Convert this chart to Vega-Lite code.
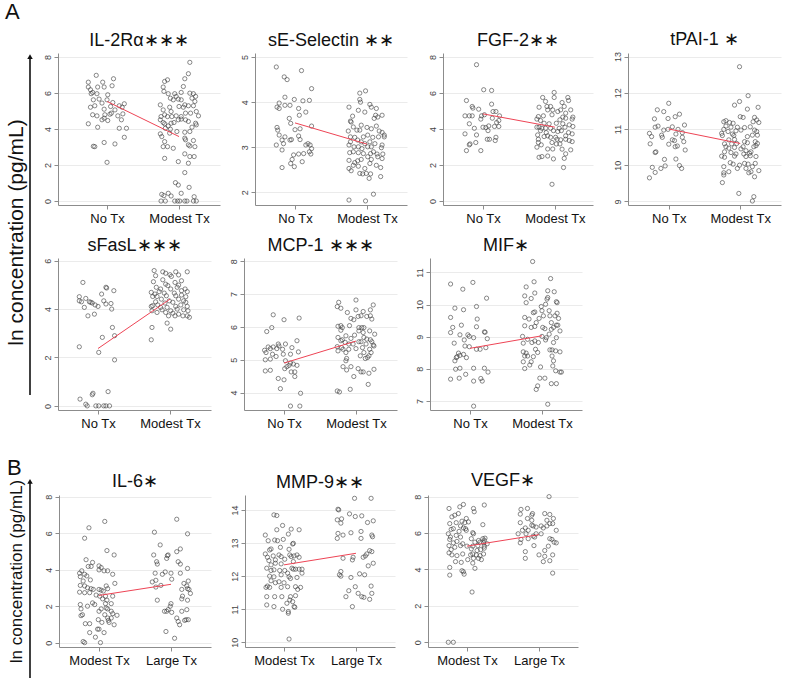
{
"$schema":"https://vega.github.io/schema/vega-lite/v6.json",
"background":"white",
"padding":{"top":0,"left":5,"right":5,"bottom":5},
"spacing":27,
"config":{
 "view":{"stroke":null},
 "font":"Liberation Sans",
 "title":{"font":"Liberation Sans","fontSize":18,"fontWeight":"normal","color":"#111","offset":3},
 "axis":{"labelFont":"Liberation Sans","titleFont":"Liberation Sans","domainColor":"#8c8c8c","tickColor":"#8c8c8c","gridColor":"#ebebeb","tickSize":4},
 "axisY":{"labelAngle":-90,"labelFontSize":9,"labelColor":"#444","labelPadding":2,"grid":true,"labelOverlap":false},
 "axisX":{"grid":false,"labelFontSize":13,"labelColor":"#111","labelPadding":3},
 "point":{"shape":"circle","filled":false,"size":18,"strokeWidth":0.6,"color":"#3a3a3a","opacity":1},
 "line":{"color":"#ee4455","strokeWidth":1}
},
"datasets":{
"il2ra":[{"x":0.74,"y":6.6},{"x":0.85,"y":6.98},{"x":0.94,"y":6.6},{"x":0.74,"y":6.33},{"x":0.77,"y":6.18},{"x":0.78,"y":5.96},{"x":0.8,"y":6.03},{"x":0.87,"y":6.33},{"x":0.96,"y":6.33},{"x":0.86,"y":5.96},{"x":1.01,"y":5.9},{"x":1.09,"y":6.79},{"x":1.07,"y":6.4},{"x":0.81,"y":5.62},{"x":0.89,"y":5.66},{"x":0.77,"y":5.21},{"x":0.83,"y":5.29},{"x":1.0,"y":5.62},{"x":0.93,"y":5.44},{"x":1.08,"y":5.47},{"x":1.05,"y":5.25},{"x":1.17,"y":5.29},{"x":1.24,"y":5.4},{"x":1.21,"y":5.21},{"x":0.96,"y":5.1},{"x":1.11,"y":5.06},{"x":1.06,"y":4.88},{"x":1.22,"y":4.84},{"x":0.8,"y":4.79},{"x":0.86,"y":4.73},{"x":0.97,"y":4.79},{"x":1.04,"y":4.82},{"x":1.15,"y":4.73},{"x":0.74,"y":4.29},{"x":0.96,"y":4.6},{"x":0.93,"y":4.51},{"x":1.01,"y":4.47},{"x":1.2,"y":4.51},{"x":0.87,"y":4.1},{"x":1.17,"y":4.04},{"x":1.27,"y":4.04},{"x":1.24,"y":3.54},{"x":0.83,"y":3.02},{"x":0.81,"y":3.04},{"x":0.96,"y":3.25},{"x":1.11,"y":3.17},{"x":1.0,"y":2.15},
{"x":1.8,"y":6.64},{"x":1.84,"y":6.73},{"x":1.78,"y":6.33},{"x":1.79,"y":6.09},{"x":1.85,"y":5.96},{"x":1.94,"y":5.96},{"x":1.96,"y":5.81},{"x":2.03,"y":6.03},{"x":2.06,"y":6.36},{"x":2.08,"y":6.79},{"x":2.13,"y":7.07},{"x":2.15,"y":7.7},{"x":1.88,"y":5.71},{"x":1.92,"y":5.62},{"x":1.99,"y":5.66},{"x":2.03,"y":5.62},{"x":2.15,"y":5.99},{"x":2.18,"y":5.71},{"x":2.2,"y":5.96},{"x":1.74,"y":5.34},{"x":1.78,"y":5.06},{"x":1.87,"y":5.21},{"x":1.89,"y":4.97},{"x":2.0,"y":5.25},{"x":2.06,"y":5.21},{"x":2.08,"y":5.34},{"x":2.13,"y":5.29},{"x":2.2,"y":5.29},{"x":2.22,"y":5.53},{"x":2.23,"y":5.81},{"x":1.8,"y":4.79},{"x":1.84,"y":4.69},{"x":1.75,"y":4.69},{"x":1.9,"y":4.69},{"x":1.96,"y":4.73},{"x":2.03,"y":4.69},{"x":2.09,"y":4.88},{"x":2.16,"y":4.88},{"x":2.24,"y":4.97},{"x":2.27,"y":4.73},{"x":1.74,"y":4.51},{"x":1.78,"y":4.36},{"x":1.8,"y":4.29},{"x":1.85,"y":4.17},{"x":1.89,"y":4.32},{"x":1.93,"y":4.36},{"x":1.99,"y":4.51},{"x":2.03,"y":4.55},{"x":2.09,"y":4.51},{"x":2.13,"y":4.42},{"x":2.18,"y":4.1},{"x":2.23,"y":4.32},{"x":2.24,"y":4.23},{"x":1.81,"y":4.04},{"x":1.88,"y":3.99},{"x":1.97,"y":3.86},{"x":1.87,"y":3.77},{"x":2.08,"y":3.82},{"x":2.15,"y":3.86},{"x":1.74,"y":3.73},{"x":1.76,"y":3.58},{"x":1.8,"y":3.3},{"x":1.84,"y":3.02},{"x":1.78,"y":3.02},{"x":1.92,"y":2.93},{"x":2.08,"y":3.49},{"x":2.09,"y":3.4},{"x":2.13,"y":3.12},{"x":2.15,"y":3.06},{"x":2.2,"y":3.36},{"x":2.22,"y":3.02},{"x":1.8,"y":2.37},{"x":2.08,"y":2.62},{"x":2.15,"y":2.47},{"x":1.99,"y":2.19},{"x":2.13,"y":2.1},{"x":2.21,"y":2.47},{"x":2.08,"y":1.58},{"x":1.95,"y":1.02},{"x":1.99,"y":0.89},{"x":2.03,"y":0.43},{"x":2.14,"y":0.76},{"x":1.85,"y":0.43},{"x":1.89,"y":0.28},{"x":1.76,"y":0.37},{"x":1.79,"y":0.3},{"x":1.75,"y":0},{"x":1.81,"y":0},{"x":1.98,"y":0},{"x":2.01,"y":0},{"x":2.08,"y":0},{"x":2.11,"y":0},{"x":2.2,"y":0},{"x":2.24,"y":0},{"x":2.21,"y":0.24},{"x":1.94,"y":0}],
"il2ra_fit":[{"x":1,"y":5.53},{"x":2,"y":3.58}],
"sesel":[{"x":0.74,"y":4.78},{"x":1.09,"y":4.7},{"x":0.85,"y":4.56},{"x":0.89,"y":4.5},{"x":0.86,"y":4.11},{"x":1.23,"y":4.3},{"x":0.99,"y":4.06},{"x":1.11,"y":4.03},{"x":1.2,"y":4.04},{"x":0.78,"y":3.98},{"x":0.75,"y":3.89},{"x":0.78,"y":3.86},{"x":0.86,"y":3.93},{"x":0.93,"y":3.93},{"x":1.05,"y":3.86},{"x":1.15,"y":3.78},{"x":0.92,"y":3.64},{"x":1.06,"y":3.71},{"x":0.94,"y":3.53},{"x":0.75,"y":3.44},{"x":0.76,"y":3.38},{"x":1.23,"y":3.47},{"x":1.0,"y":3.39},{"x":1.07,"y":3.41},{"x":0.78,"y":3.27},{"x":0.86,"y":3.23},{"x":0.82,"y":3.16},{"x":1.05,"y":3.25},{"x":0.93,"y":3.16},{"x":0.95,"y":3.17},{"x":1.07,"y":3.17},{"x":0.84,"y":3.08},{"x":0.74,"y":3.05},{"x":0.82,"y":2.94},{"x":1.18,"y":3.08},{"x":1.21,"y":3.05},{"x":1.15,"y":3.05},{"x":1.23,"y":2.97},{"x":1.2,"y":2.9},{"x":1.22,"y":2.85},{"x":1.12,"y":2.86},{"x":1.05,"y":2.85},{"x":0.98,"y":2.83},{"x":1.1,"y":2.68},{"x":0.96,"y":2.73},{"x":0.94,"y":2.64},{"x":0.99,"y":2.57},{"x":0.82,"y":2.55},
{"x":1.9,"y":4.2},{"x":1.98,"y":4.25},{"x":1.9,"y":4.06},{"x":1.91,"y":4.0},{"x":1.75,"y":3.89},{"x":2.04,"y":3.95},{"x":2.06,"y":3.89},{"x":2.13,"y":3.86},{"x":2.21,"y":3.71},{"x":2.12,"y":3.71},{"x":2.15,"y":3.67},{"x":2.1,"y":3.64},{"x":1.8,"y":3.69},{"x":1.88,"y":3.82},{"x":1.97,"y":3.78},{"x":1.77,"y":3.58},{"x":1.78,"y":3.56},{"x":1.92,"y":3.49},{"x":1.81,"y":3.45},{"x":1.9,"y":3.38},{"x":1.86,"y":3.38},{"x":2.0,"y":3.44},{"x":2.06,"y":3.41},{"x":2.13,"y":3.47},{"x":2.17,"y":3.36},{"x":2.21,"y":3.33},{"x":2.24,"y":3.27},{"x":1.74,"y":3.36},{"x":1.77,"y":3.23},{"x":1.83,"y":3.22},{"x":1.95,"y":3.23},{"x":2.01,"y":3.27},{"x":2.08,"y":3.22},{"x":2.16,"y":3.23},{"x":2.24,"y":3.23},{"x":1.87,"y":3.16},{"x":1.92,"y":3.12},{"x":1.97,"y":3.08},{"x":2.04,"y":3.12},{"x":2.11,"y":3.08},{"x":2.21,"y":3.05},{"x":1.77,"y":3.12},{"x":1.75,"y":3.05},{"x":1.82,"y":3.01},{"x":1.88,"y":3.01},{"x":1.93,"y":2.97},{"x":2.01,"y":3.01},{"x":2.06,"y":3.01},{"x":2.2,"y":2.99},{"x":1.81,"y":2.9},{"x":1.88,"y":2.88},{"x":1.76,"y":2.88},{"x":1.95,"y":2.86},{"x":2.05,"y":2.86},{"x":2.09,"y":2.9},{"x":2.14,"y":2.85},{"x":2.22,"y":2.85},{"x":1.75,"y":2.71},{"x":1.83,"y":2.66},{"x":1.87,"y":2.7},{"x":1.92,"y":2.73},{"x":2.01,"y":2.79},{"x":2.06,"y":2.73},{"x":2.15,"y":2.79},{"x":2.21,"y":2.75},{"x":1.81,"y":2.6},{"x":1.88,"y":2.58},{"x":1.97,"y":2.53},{"x":2.04,"y":2.64},{"x":2.13,"y":2.6},{"x":2.19,"y":2.55},{"x":1.75,"y":2.53},{"x":1.78,"y":2.48},{"x":1.99,"y":2.42},{"x":1.9,"y":2.42},{"x":1.94,"y":2.41},{"x":2.05,"y":2.41},{"x":2.19,"y":2.35},{"x":2.03,"y":2.31},{"x":2.09,"y":1.96},{"x":1.75,"y":1.83},{"x":1.98,"y":1.81}],
"sesel_fit":[{"x":1,"y":3.54},{"x":2,"y":3.07}],
"fgf2":[{"x":0.91,"y":7.57},{"x":1.01,"y":6.18},{"x":1.12,"y":6.14},{"x":0.77,"y":5.58},{"x":0.85,"y":5.25},{"x":0.86,"y":5.16},{"x":0.94,"y":5.1},{"x":1.12,"y":5.38},{"x":1.14,"y":4.97},{"x":1.18,"y":4.97},{"x":0.98,"y":4.73},{"x":1.02,"y":4.79},{"x":0.75,"y":4.73},{"x":0.81,"y":4.73},{"x":0.85,"y":4.73},{"x":1.13,"y":4.6},{"x":1.23,"y":4.73},{"x":0.97,"y":4.55},{"x":1.22,"y":4.47},{"x":0.81,"y":4.29},{"x":1.19,"y":4.36},{"x":1.0,"y":4.1},{"x":1.04,"y":4.08},{"x":1.08,"y":4.17},{"x":1.16,"y":4.14},{"x":1.22,"y":4.14},{"x":0.88,"y":4.04},{"x":1.07,"y":3.91},{"x":0.75,"y":3.73},{"x":0.91,"y":3.67},{"x":1.06,"y":3.43},{"x":1.09,"y":3.43},{"x":1.18,"y":3.54},{"x":1.17,"y":3.36},{"x":0.82,"y":3.17},{"x":0.81,"y":3.12},{"x":0.9,"y":3.25},{"x":0.77,"y":2.8},{"x":0.97,"y":2.8},
{"x":1.99,"y":6.03},{"x":1.99,"y":5.75},{"x":1.83,"y":5.75},{"x":2.18,"y":5.75},{"x":1.87,"y":5.53},{"x":2.19,"y":5.58},{"x":2.1,"y":5.47},{"x":2.13,"y":5.25},{"x":1.78,"y":5.21},{"x":1.89,"y":5.25},{"x":1.94,"y":5.25},{"x":1.97,"y":5.06},{"x":2.08,"y":5.06},{"x":1.9,"y":5.06},{"x":2.22,"y":5.06},{"x":2.04,"y":4.97},{"x":2.15,"y":4.88},{"x":1.77,"y":4.69},{"x":1.84,"y":4.73},{"x":1.96,"y":4.79},{"x":2.11,"y":4.66},{"x":2.25,"y":4.66},{"x":1.75,"y":4.55},{"x":1.8,"y":4.47},{"x":2.07,"y":4.51},{"x":2.15,"y":4.6},{"x":2.24,"y":4.55},{"x":1.85,"y":4.32},{"x":1.92,"y":4.29},{"x":2.02,"y":4.32},{"x":2.11,"y":4.29},{"x":2.2,"y":4.23},{"x":1.75,"y":4.1},{"x":1.78,"y":4.1},{"x":1.82,"y":4.04},{"x":1.87,"y":4.04},{"x":1.94,"y":4.04},{"x":2.06,"y":4.04},{"x":2.14,"y":4.1},{"x":2.25,"y":4.14},{"x":1.8,"y":3.91},{"x":1.88,"y":3.8},{"x":1.98,"y":3.91},{"x":2.04,"y":3.86},{"x":2.09,"y":3.91},{"x":2.19,"y":3.8},{"x":2.24,"y":3.73},{"x":1.76,"y":3.67},{"x":1.85,"y":3.58},{"x":1.9,"y":3.62},{"x":1.94,"y":3.54},{"x":2.01,"y":3.54},{"x":2.15,"y":3.62},{"x":1.77,"y":3.43},{"x":2.03,"y":3.43},{"x":2.08,"y":3.4},{"x":2.15,"y":3.43},{"x":2.2,"y":3.36},{"x":2.24,"y":3.3},{"x":1.77,"y":3.25},{"x":1.81,"y":3.12},{"x":1.96,"y":3.25},{"x":2.02,"y":3.17},{"x":2.07,"y":3.17},{"x":1.75,"y":2.99},{"x":1.9,"y":2.89},{"x":1.97,"y":2.89},{"x":2.1,"y":2.88},{"x":2.22,"y":2.84},{"x":2.15,"y":2.62},{"x":1.78,"y":2.43},{"x":1.82,"y":2.47},{"x":1.9,"y":2.5},{"x":1.98,"y":2.34},{"x":2.13,"y":2.37},{"x":2.12,"y":1.86},{"x":1.96,"y":0.93}],
"fgf2_fit":[{"x":1,"y":4.84},{"x":2,"y":4.1}],
"tpai":[{"x":1.0,"y":11.71},{"x":0.84,"y":11.53},{"x":0.93,"y":11.48},{"x":0.8,"y":11.28},{"x":0.99,"y":11.29},{"x":1.09,"y":11.34},{"x":1.15,"y":11.41},{"x":0.85,"y":11.08},{"x":0.81,"y":11.05},{"x":1.05,"y":11.06},{"x":1.22,"y":11.11},{"x":0.93,"y":10.97},{"x":0.99,"y":10.99},{"x":1.13,"y":10.99},{"x":0.73,"y":10.88},{"x":0.76,"y":10.79},{"x":0.9,"y":10.83},{"x":1.1,"y":10.86},{"x":1.19,"y":10.9},{"x":0.91,"y":10.77},{"x":1.19,"y":10.77},{"x":1.05,"y":10.7},{"x":1.08,"y":10.68},{"x":1.21,"y":10.65},{"x":0.74,"y":10.59},{"x":1.0,"y":10.58},{"x":1.12,"y":10.53},{"x":1.09,"y":10.51},{"x":1.23,"y":10.42},{"x":0.82,"y":10.37},{"x":0.81,"y":10.35},{"x":1.1,"y":10.17},{"x":0.94,"y":10.16},{"x":1.15,"y":9.99},{"x":1.18,"y":9.91},{"x":0.95,"y":9.98},{"x":0.77,"y":9.94},{"x":0.89,"y":9.91},{"x":0.81,"y":9.8},{"x":0.73,"y":9.65},
{"x":1.99,"y":12.72},{"x":2.11,"y":11.92},{"x":1.99,"y":11.76},{"x":1.92,"y":11.66},{"x":2.25,"y":11.6},{"x":2.1,"y":11.55},{"x":2.0,"y":11.34},{"x":2.04,"y":11.32},{"x":2.2,"y":11.32},{"x":1.77,"y":11.2},{"x":1.8,"y":11.23},{"x":1.85,"y":11.18},{"x":1.9,"y":11.16},{"x":2.18,"y":11.2},{"x":2.23,"y":11.25},{"x":2.26,"y":11.18},{"x":1.8,"y":11.08},{"x":1.87,"y":11.05},{"x":1.96,"y":11.05},{"x":2.06,"y":11.04},{"x":2.14,"y":11.06},{"x":1.77,"y":10.99},{"x":1.83,"y":10.93},{"x":1.94,"y":10.95},{"x":2.01,"y":10.97},{"x":2.2,"y":10.97},{"x":2.23,"y":10.93},{"x":1.74,"y":10.88},{"x":1.89,"y":10.86},{"x":1.91,"y":10.82},{"x":1.75,"y":10.82},{"x":2.1,"y":10.79},{"x":2.17,"y":10.83},{"x":2.24,"y":10.83},{"x":1.84,"y":10.7},{"x":1.92,"y":10.71},{"x":2.06,"y":10.65},{"x":2.21,"y":10.65},{"x":1.78,"y":10.59},{"x":1.8,"y":10.51},{"x":1.88,"y":10.59},{"x":1.95,"y":10.6},{"x":2.1,"y":10.62},{"x":2.24,"y":10.6},{"x":1.84,"y":10.47},{"x":1.92,"y":10.49},{"x":2.01,"y":10.45},{"x":2.04,"y":10.51},{"x":2.19,"y":10.51},{"x":2.22,"y":10.54},{"x":1.78,"y":10.37},{"x":1.87,"y":10.35},{"x":2.08,"y":10.4},{"x":2.15,"y":10.37},{"x":1.94,"y":10.31},{"x":2.05,"y":10.31},{"x":2.13,"y":10.33},{"x":1.74,"y":10.25},{"x":1.78,"y":10.22},{"x":1.92,"y":10.25},{"x":2.08,"y":10.24},{"x":2.14,"y":10.26},{"x":2.22,"y":10.24},{"x":1.86,"y":10.07},{"x":1.9,"y":10.03},{"x":1.99,"y":10.0},{"x":2.06,"y":10.05},{"x":2.11,"y":10.03},{"x":2.21,"y":10.05},{"x":1.77,"y":9.96},{"x":1.96,"y":9.91},{"x":2.08,"y":9.91},{"x":2.17,"y":9.96},{"x":2.26,"y":9.85},{"x":1.77,"y":9.79},{"x":1.84,"y":9.82},{"x":2.12,"y":9.79},{"x":2.15,"y":9.82},{"x":1.77,"y":9.73},{"x":2.2,"y":9.68},{"x":1.75,"y":9.52},{"x":1.98,"y":9.22},{"x":2.19,"y":9.13},{"x":2.17,"y":9.01}],
"tpai_fit":[{"x":1,"y":11.0},{"x":2,"y":10.6}],
"sfasl":[{"x":0.79,"y":5.1},{"x":0.74,"y":4.51},{"x":0.74,"y":4.34},{"x":0.77,"y":4.3},{"x":0.83,"y":4.44},{"x":0.81,"y":4.07},{"x":0.88,"y":4.3},{"x":0.9,"y":4.28},{"x":0.92,"y":4.25},{"x":0.96,"y":4.17},{"x":1.0,"y":4.11},{"x":0.86,"y":3.72},{"x":0.95,"y":3.79},{"x":1.05,"y":4.62},{"x":1.11,"y":4.9},{"x":1.12,"y":4.87},{"x":1.22,"y":4.76},{"x":1.08,"y":4.34},{"x":1.11,"y":4.21},{"x":1.18,"y":4.23},{"x":1.19,"y":4.0},{"x":1.2,"y":3.24},{"x":1.23,"y":2.9},{"x":1.06,"y":2.83},{"x":0.74,"y":2.44},{"x":1.01,"y":2.21},{"x":1.23,"y":1.9},{"x":1.14,"y":0.59},{"x":0.93,"y":0.52},{"x":0.92,"y":0.46},{"x":0.75,"y":0.28},{"x":0.83,"y":0.07},{"x":0.85,"y":0},{"x":0.97,"y":0},{"x":1.01,"y":0},{"x":1.08,"y":0},{"x":1.11,"y":0},{"x":1.16,"y":0},
{"x":1.78,"y":5.59},{"x":1.9,"y":5.54},{"x":2.08,"y":5.54},{"x":2.24,"y":5.54},{"x":1.8,"y":5.38},{"x":1.94,"y":5.48},{"x":2.0,"y":5.42},{"x":2.12,"y":5.41},{"x":2.02,"y":5.35},{"x":2.16,"y":5.17},{"x":1.77,"y":5.13},{"x":1.9,"y":5.21},{"x":1.94,"y":5.03},{"x":2.07,"y":5.1},{"x":2.12,"y":4.99},{"x":2.1,"y":4.9},{"x":1.81,"y":4.9},{"x":1.87,"y":4.83},{"x":1.97,"y":4.97},{"x":2.01,"y":4.83},{"x":2.21,"y":4.83},{"x":2.16,"y":4.76},{"x":1.74,"y":4.69},{"x":1.79,"y":4.62},{"x":1.85,"y":4.72},{"x":1.92,"y":4.66},{"x":2.06,"y":4.66},{"x":2.24,"y":4.72},{"x":1.76,"y":4.52},{"x":1.82,"y":4.52},{"x":1.95,"y":4.55},{"x":2.08,"y":4.55},{"x":2.16,"y":4.58},{"x":2.22,"y":4.51},{"x":1.88,"y":4.41},{"x":1.99,"y":4.34},{"x":2.12,"y":4.41},{"x":2.19,"y":4.34},{"x":1.8,"y":4.3},{"x":1.93,"y":4.25},{"x":2.04,"y":4.28},{"x":2.22,"y":4.28},{"x":1.74,"y":4.11},{"x":1.76,"y":4.14},{"x":1.83,"y":4.17},{"x":1.87,"y":4.07},{"x":1.96,"y":4.07},{"x":2.08,"y":4.11},{"x":2.15,"y":4.17},{"x":2.24,"y":4.11},{"x":1.89,"y":3.97},{"x":2.01,"y":3.93},{"x":2.1,"y":4.0},{"x":2.19,"y":3.97},{"x":2.25,"y":3.93},{"x":1.82,"y":3.86},{"x":1.94,"y":3.86},{"x":2.04,"y":3.83},{"x":2.12,"y":3.79},{"x":2.24,"y":3.72},{"x":1.98,"y":3.72},{"x":2.07,"y":3.72},{"x":2.18,"y":3.72},{"x":2.27,"y":3.66},{"x":1.75,"y":3.93},{"x":1.75,"y":3.24},{"x":1.96,"y":3.42},{"x":2.01,"y":3.17},{"x":1.74,"y":2.73}],
"sfasl_fit":[{"x":1,"y":2.37},{"x":2,"y":4.41}],
"mcp1":[{"x":0.85,"y":6.37},{"x":0.83,"y":5.98},{"x":0.76,"y":5.86},{"x":1.0,"y":6.22},{"x":1.21,"y":6.27},{"x":1.18,"y":5.58},{"x":0.92,"y":5.48},{"x":0.93,"y":5.42},{"x":1.02,"y":5.48},{"x":0.78,"y":5.39},{"x":0.85,"y":5.39},{"x":0.81,"y":5.34},{"x":0.9,"y":5.34},{"x":1.11,"y":5.37},{"x":0.98,"y":5.32},{"x":0.73,"y":5.29},{"x":0.75,"y":5.22},{"x":0.84,"y":5.17},{"x":1.09,"y":5.17},{"x":0.99,"y":5.17},{"x":1.2,"y":5.24},{"x":0.89,"y":5.1},{"x":0.74,"y":5.0},{"x":0.81,"y":5.02},{"x":1.02,"y":4.97},{"x":1.09,"y":4.9},{"x":1.13,"y":4.87},{"x":1.18,"y":4.83},{"x":1.07,"y":4.83},{"x":1.04,"y":4.79},{"x":1.01,"y":4.73},{"x":1.1,"y":4.63},{"x":1.15,"y":4.63},{"x":1.15,"y":4.49},{"x":0.74,"y":4.66},{"x":0.81,"y":4.68},{"x":0.92,"y":4.43},{"x":1.0,"y":4.39},{"x":0.95,"y":4.12},{"x":1.23,"y":3.98},{"x":1.09,"y":3.59},{"x":1.22,"y":3.59},
{"x":2.0,"y":6.82},{"x":1.76,"y":6.75},{"x":1.74,"y":6.62},{"x":1.79,"y":6.57},{"x":2.24,"y":6.67},{"x":2.2,"y":6.52},{"x":2.1,"y":6.47},{"x":1.88,"y":6.44},{"x":2.0,"y":6.52},{"x":2.03,"y":6.32},{"x":1.93,"y":6.26},{"x":1.97,"y":6.22},{"x":2.07,"y":6.34},{"x":2.15,"y":6.32},{"x":2.2,"y":6.34},{"x":2.22,"y":6.24},{"x":1.75,"y":6.02},{"x":1.79,"y":6.04},{"x":1.81,"y":5.98},{"x":1.79,"y":5.9},{"x":1.91,"y":6.04},{"x":2.04,"y":5.98},{"x":2.08,"y":5.98},{"x":2.11,"y":5.98},{"x":2.04,"y":5.88},{"x":2.1,"y":5.83},{"x":2.19,"y":5.88},{"x":2.26,"y":5.78},{"x":1.98,"y":5.75},{"x":1.86,"y":5.73},{"x":1.93,"y":5.65},{"x":1.75,"y":5.68},{"x":1.81,"y":5.61},{"x":2.11,"y":5.68},{"x":2.15,"y":5.63},{"x":2.2,"y":5.61},{"x":1.79,"y":5.58},{"x":1.85,"y":5.53},{"x":2.04,"y":5.55},{"x":2.07,"y":5.55},{"x":2.22,"y":5.55},{"x":1.9,"y":5.48},{"x":1.96,"y":5.48},{"x":2.14,"y":5.48},{"x":2.24,"y":5.45},{"x":1.74,"y":5.4},{"x":1.8,"y":5.37},{"x":1.82,"y":5.32},{"x":1.9,"y":5.32},{"x":2.0,"y":5.34},{"x":2.09,"y":5.37},{"x":2.19,"y":5.32},{"x":2.25,"y":5.42},{"x":1.75,"y":5.27},{"x":1.86,"y":5.22},{"x":2.11,"y":5.22},{"x":2.21,"y":5.22},{"x":2.06,"y":5.12},{"x":2.18,"y":5.12},{"x":1.87,"y":5.04},{"x":2.13,"y":5.04},{"x":2.16,"y":5.07},{"x":1.86,"y":4.97},{"x":1.82,"y":4.79},{"x":1.93,"y":4.79},{"x":2.03,"y":4.73},{"x":2.07,"y":4.63},{"x":2.1,"y":4.63},{"x":1.87,"y":4.69},{"x":2.25,"y":4.71},{"x":1.97,"y":4.49},{"x":2.18,"y":4.59},{"x":2.17,"y":4.25},{"x":1.74,"y":4.05},{"x":1.77,"y":4.02},{"x":1.92,"y":4.1}],
"mcp1_fit":[{"x":1,"y":4.9},{"x":2,"y":5.57}],
"mif":[{"x":0.73,"y":10.64},{"x":1.04,"y":10.69},{"x":0.9,"y":10.48},{"x":1.23,"y":10.2},{"x":0.79,"y":9.89},{"x":1.09,"y":9.94},{"x":0.91,"y":9.84},{"x":0.73,"y":9.6},{"x":1.1,"y":9.55},{"x":1.09,"y":9.31},{"x":0.76,"y":9.29},{"x":0.88,"y":9.36},{"x":0.73,"y":9.13},{"x":0.86,"y":9.06},{"x":0.97,"y":9.06},{"x":0.99,"y":9.01},{"x":1.05,"y":8.97},{"x":1.2,"y":9.15},{"x":1.21,"y":9.14},{"x":1.24,"y":8.94},{"x":0.92,"y":8.9},{"x":0.78,"y":8.8},{"x":0.93,"y":8.71},{"x":0.99,"y":8.69},{"x":1.14,"y":8.61},{"x":1.09,"y":8.61},{"x":1.22,"y":8.66},{"x":0.84,"y":8.49},{"x":0.86,"y":8.42},{"x":0.91,"y":8.45},{"x":0.82,"y":8.38},{"x":0.81,"y":8.35},{"x":0.95,"y":8.35},{"x":0.79,"y":8.25},{"x":0.8,"y":7.99},{"x":0.86,"y":8.02},{"x":1.05,"y":8.02},{"x":1.2,"y":8.02},{"x":1.25,"y":7.9},{"x":0.94,"y":7.83},{"x":0.85,"y":7.71},{"x":0.73,"y":7.68},{"x":1.15,"y":7.7},{"x":1.17,"y":7.62},{"x":1.05,"y":7.62},{"x":1.05,"y":6.84},
{"x":1.87,"y":11.34},{"x":1.89,"y":10.71},{"x":2.12,"y":10.81},{"x":1.78,"y":10.55},{"x":1.9,"y":10.36},{"x":2.17,"y":10.4},{"x":2.08,"y":10.43},{"x":1.76,"y":10.27},{"x":1.85,"y":10.19},{"x":2.08,"y":10.22},{"x":2.07,"y":10.17},{"x":1.78,"y":10.06},{"x":2.05,"y":10.01},{"x":2.2,"y":10.09},{"x":2.21,"y":10.06},{"x":1.99,"y":9.94},{"x":2.0,"y":9.81},{"x":1.88,"y":9.75},{"x":1.9,"y":9.77},{"x":2.1,"y":9.81},{"x":2.21,"y":9.73},{"x":2.18,"y":9.65},{"x":2.11,"y":9.65},{"x":1.76,"y":9.6},{"x":1.82,"y":9.55},{"x":1.96,"y":9.57},{"x":2.02,"y":9.65},{"x":2.23,"y":9.57},{"x":1.92,"y":9.44},{"x":2.13,"y":9.44},{"x":1.76,"y":9.34},{"x":1.85,"y":9.29},{"x":1.9,"y":9.32},{"x":2.01,"y":9.29},{"x":2.04,"y":9.25},{"x":2.2,"y":9.36},{"x":2.22,"y":9.36},{"x":2.13,"y":9.23},{"x":2.16,"y":9.29},{"x":2.25,"y":9.18},{"x":2.1,"y":9.08},{"x":2.0,"y":9.01},{"x":2.06,"y":8.97},{"x":2.2,"y":8.97},{"x":1.73,"y":9.01},{"x":1.8,"y":8.92},{"x":1.86,"y":8.82},{"x":1.74,"y":8.8},{"x":1.9,"y":8.87},{"x":1.95,"y":8.82},{"x":2.05,"y":8.9},{"x":2.16,"y":8.82},{"x":1.74,"y":8.53},{"x":1.78,"y":8.49},{"x":1.8,"y":8.4},{"x":1.76,"y":8.4},{"x":1.94,"y":8.51},{"x":1.88,"y":8.38},{"x":1.91,"y":8.61},{"x":2.11,"y":8.59},{"x":2.14,"y":8.59},{"x":2.19,"y":8.56},{"x":2.25,"y":8.53},{"x":2.14,"y":8.4},{"x":2.16,"y":8.25},{"x":1.74,"y":8.22},{"x":1.85,"y":8.22},{"x":1.83,"y":8.12},{"x":1.76,"y":8.01},{"x":1.98,"y":8.06},{"x":2.15,"y":8.09},{"x":2.19,"y":7.94},{"x":2.25,"y":7.9},{"x":2.27,"y":7.9},{"x":1.97,"y":7.71},{"x":2.04,"y":7.71},{"x":1.94,"y":7.47},{"x":1.92,"y":7.36},{"x":2.13,"y":7.54},{"x":2.2,"y":7.54},{"x":2.08,"y":6.9}],
"mif_fit":[{"x":1,"y":8.64},{"x":2,"y":9.03}],
"il6":[{"x":1.08,"y":6.65},{"x":0.86,"y":6.3},{"x":0.8,"y":5.73},{"x":1.11,"y":5.05},{"x":1.21,"y":4.81},{"x":0.82,"y":4.55},{"x":0.91,"y":4.4},{"x":0.85,"y":4.18},{"x":0.89,"y":4.18},{"x":1.0,"y":4.21},{"x":1.03,"y":4.12},{"x":1.0,"y":3.99},{"x":1.07,"y":3.94},{"x":1.12,"y":3.94},{"x":0.76,"y":3.94},{"x":0.73,"y":3.81},{"x":0.8,"y":3.75},{"x":0.83,"y":3.66},{"x":0.74,"y":3.62},{"x":1.19,"y":3.75},{"x":0.88,"y":3.44},{"x":0.78,"y":3.38},{"x":0.74,"y":3.14},{"x":0.8,"y":3.11},{"x":0.84,"y":3.01},{"x":0.89,"y":2.96},{"x":0.92,"y":2.92},{"x":1.0,"y":2.92},{"x":1.03,"y":2.88},{"x":1.12,"y":2.96},{"x":1.22,"y":3.25},{"x":1.1,"y":3.11},{"x":1.06,"y":2.83},{"x":0.87,"y":2.74},{"x":0.8,"y":2.74},{"x":0.73,"y":2.77},{"x":0.96,"y":2.61},{"x":1.01,"y":2.55},{"x":1.09,"y":2.55},{"x":1.19,"y":2.55},{"x":1.05,"y":2.4},{"x":1.11,"y":2.33},{"x":1.09,"y":2.14},{"x":1.17,"y":2.14},{"x":0.91,"y":2.18},{"x":0.94,"y":2.09},{"x":0.74,"y":2.09},{"x":0.84,"y":2.0},{"x":0.75,"y":1.85},{"x":1.03,"y":1.85},{"x":1.1,"y":1.9},{"x":1.12,"y":1.85},{"x":1.17,"y":1.72},{"x":1.19,"y":1.59},{"x":1.25,"y":1.5},{"x":1.08,"y":1.53},{"x":1.12,"y":1.35},{"x":1.17,"y":1.35},{"x":1.13,"y":1.22},{"x":1.14,"y":1.11},{"x":1.21,"y":0.98},{"x":1.0,"y":1.72},{"x":0.99,"y":1.26},{"x":1.04,"y":1.11},{"x":0.75,"y":1.48},{"x":0.77,"y":1.53},{"x":0.81,"y":1.04},{"x":0.87,"y":1.04},{"x":0.87,"y":0.55},{"x":0.98,"y":0.74},{"x":1.0,"y":0.74},{"x":1.07,"y":0.55},{"x":0.95,"y":0.3},{"x":1.02,"y":0},{"x":0.78,"y":0.06},{"x":0.8,"y":0},
{"x":2.08,"y":6.77},{"x":1.77,"y":6.06},{"x":2.23,"y":5.97},{"x":1.85,"y":5.36},{"x":2.13,"y":5.14},{"x":2.08,"y":4.99},{"x":1.76,"y":4.81},{"x":1.95,"y":4.77},{"x":1.96,"y":4.81},{"x":1.94,"y":4.62},{"x":2.1,"y":4.44},{"x":1.8,"y":4.44},{"x":1.81,"y":4.31},{"x":2.13,"y":4.31},{"x":2.23,"y":4.07},{"x":1.92,"y":3.88},{"x":2.0,"y":3.81},{"x":1.78,"y":3.81},{"x":1.88,"y":3.75},{"x":2.13,"y":3.81},{"x":2.24,"y":3.38},{"x":1.74,"y":3.33},{"x":1.79,"y":3.42},{"x":2.01,"y":3.48},{"x":1.79,"y":3.05},{"x":1.86,"y":3.14},{"x":2.18,"y":3.25},{"x":2.22,"y":3.11},{"x":2.23,"y":2.96},{"x":2.25,"y":2.92},{"x":2.15,"y":2.92},{"x":2.27,"y":2.7},{"x":2.16,"y":2.55},{"x":2.15,"y":2.4},{"x":1.81,"y":2.33},{"x":2.23,"y":2.33},{"x":2.0,"y":2.14},{"x":1.99,"y":2.0},{"x":1.91,"y":1.72},{"x":1.96,"y":1.81},{"x":2.01,"y":1.66},{"x":1.94,"y":1.72},{"x":2.22,"y":1.81},{"x":2.15,"y":1.72},{"x":2.08,"y":1.35},{"x":2.19,"y":1.22},{"x":2.21,"y":1.26},{"x":2.24,"y":1.26},{"x":2.1,"y":1.16},{"x":2.12,"y":0.98},{"x":1.93,"y":0.61},{"x":2.05,"y":0.24}],
"il6_fit":[{"x":1,"y":2.59},{"x":2,"y":3.2}],
"mmp9":[{"x":0.86,"y":13.85},{"x":0.9,"y":13.83},{"x":0.98,"y":13.53},{"x":0.9,"y":13.4},{"x":0.74,"y":13.24},{"x":1.06,"y":13.27},{"x":1.1,"y":13.42},{"x":1.21,"y":13.4},{"x":0.78,"y":13.07},{"x":0.87,"y":13.09},{"x":0.91,"y":13.07},{"x":0.99,"y":13.11},{"x":1.12,"y":12.97},{"x":1.13,"y":12.99},{"x":0.82,"y":12.82},{"x":0.8,"y":12.79},{"x":0.95,"y":12.87},{"x":1.07,"y":12.81},{"x":0.74,"y":12.67},{"x":0.77,"y":12.57},{"x":0.85,"y":12.61},{"x":0.93,"y":12.64},{"x":0.96,"y":12.59},{"x":1.08,"y":12.64},{"x":1.1,"y":12.59},{"x":1.14,"y":12.61},{"x":1.18,"y":12.64},{"x":1.21,"y":12.57},{"x":0.79,"y":12.47},{"x":0.88,"y":12.49},{"x":1.01,"y":12.51},{"x":0.88,"y":12.39},{"x":0.82,"y":12.34},{"x":0.96,"y":12.37},{"x":1.13,"y":12.44},{"x":0.76,"y":12.24},{"x":0.86,"y":12.19},{"x":0.82,"y":12.17},{"x":0.94,"y":12.17},{"x":1.01,"y":12.17},{"x":1.11,"y":12.24},{"x":1.13,"y":12.21},{"x":1.16,"y":12.21},{"x":1.21,"y":12.21},{"x":1.25,"y":12.21},{"x":1.25,"y":12.09},{"x":1.05,"y":12.09},{"x":0.8,"y":12.0},{"x":0.86,"y":11.98},{"x":0.96,"y":12.04},{"x":1.07,"y":11.98},{"x":1.09,"y":11.93},{"x":1.18,"y":11.96},{"x":0.82,"y":11.86},{"x":0.88,"y":11.8},{"x":0.93,"y":11.83},{"x":1.0,"y":11.8},{"x":0.77,"y":11.7},{"x":0.75,"y":11.66},{"x":0.8,"y":11.66},{"x":0.96,"y":11.66},{"x":1.05,"y":11.68},{"x":1.16,"y":11.68},{"x":1.23,"y":11.66},{"x":1.19,"y":11.6},{"x":0.76,"y":11.38},{"x":0.87,"y":11.38},{"x":0.97,"y":11.38},{"x":1.09,"y":11.38},{"x":1.16,"y":11.41},{"x":1.08,"y":11.28},{"x":1.12,"y":11.23},{"x":1.04,"y":11.18},{"x":1.14,"y":11.08},{"x":1.15,"y":11.06},{"x":0.76,"y":11.13},{"x":0.86,"y":11.08},{"x":0.98,"y":11.0},{"x":1.06,"y":10.93},{"x":1.06,"y":10.88},{"x":1.07,"y":10.1},
{"x":1.75,"y":14.02},{"x":1.76,"y":14.0},{"x":1.98,"y":14.35},{"x":2.21,"y":14.35},{"x":1.91,"y":13.88},{"x":1.99,"y":13.8},{"x":2.08,"y":13.82},{"x":1.74,"y":13.7},{"x":1.8,"y":13.73},{"x":1.79,"y":13.6},{"x":2.16,"y":13.62},{"x":2.24,"y":13.67},{"x":1.75,"y":13.29},{"x":1.82,"y":13.24},{"x":1.93,"y":13.31},{"x":2.07,"y":13.35},{"x":2.22,"y":13.24},{"x":1.74,"y":13.14},{"x":2.07,"y":13.14},{"x":2.23,"y":13.19},{"x":2.22,"y":12.74},{"x":2.19,"y":12.77},{"x":2.15,"y":12.67},{"x":1.96,"y":12.57},{"x":2.1,"y":12.57},{"x":2.13,"y":12.61},{"x":1.82,"y":12.54},{"x":1.95,"y":12.49},{"x":2.24,"y":12.39},{"x":2.17,"y":12.31},{"x":1.79,"y":12.14},{"x":1.77,"y":12.04},{"x":1.79,"y":12.0},{"x":2.05,"y":12.07},{"x":2.12,"y":12.04},{"x":1.93,"y":11.96},{"x":2.21,"y":11.7},{"x":1.99,"y":11.68},{"x":1.9,"y":11.56},{"x":2.22,"y":11.48},{"x":2.03,"y":11.48},{"x":2.08,"y":11.38},{"x":2.11,"y":11.36},{"x":1.86,"y":11.38},{"x":2.19,"y":11.3},{"x":1.95,"y":11.08}],
"mmp9_fit":[{"x":1,"y":12.34},{"x":2,"y":12.69}],
"vegf":[{"x":0.95,"y":7.57},{"x":0.75,"y":7.35},{"x":0.9,"y":7.44},{"x":1.09,"y":7.35},{"x":1.24,"y":7.54},{"x":1.1,"y":7.17},{"x":0.88,"y":7.07},{"x":0.83,"y":6.98},{"x":0.79,"y":6.89},{"x":0.99,"y":6.8},{"x":0.93,"y":6.65},{"x":0.76,"y":6.52},{"x":0.85,"y":6.57},{"x":0.97,"y":6.57},{"x":1.02,"y":6.61},{"x":1.22,"y":6.46},{"x":0.91,"y":6.39},{"x":0.95,"y":6.28},{"x":0.98,"y":6.24},{"x":0.78,"y":6.2},{"x":0.81,"y":6.24},{"x":0.89,"y":6.09},{"x":0.99,"y":6.15},{"x":0.74,"y":5.96},{"x":1.08,"y":6.02},{"x":1.09,"y":5.96},{"x":0.85,"y":5.87},{"x":0.91,"y":5.78},{"x":0.77,"y":5.78},{"x":0.76,"y":5.65},{"x":1.06,"y":5.69},{"x":1.22,"y":5.69},{"x":1.25,"y":5.72},{"x":1.16,"y":5.59},{"x":1.24,"y":5.59},{"x":0.81,"y":5.46},{"x":0.86,"y":5.54},{"x":0.94,"y":5.41},{"x":1.11,"y":5.5},{"x":1.18,"y":5.5},{"x":1.23,"y":5.46},{"x":1.28,"y":5.41},{"x":0.75,"y":5.31},{"x":0.83,"y":5.22},{"x":0.91,"y":5.31},{"x":1.0,"y":5.28},{"x":1.08,"y":5.28},{"x":1.15,"y":5.31},{"x":1.24,"y":5.28},{"x":0.78,"y":5.09},{"x":1.06,"y":5.13},{"x":1.14,"y":5.04},{"x":1.19,"y":5.09},{"x":1.24,"y":5.17},{"x":0.75,"y":4.91},{"x":0.79,"y":4.8},{"x":0.86,"y":4.76},{"x":0.94,"y":4.85},{"x":1.05,"y":4.8},{"x":1.08,"y":4.85},{"x":1.13,"y":4.8},{"x":1.18,"y":4.76},{"x":1.23,"y":4.85},{"x":1.16,"y":4.61},{"x":1.2,"y":4.54},{"x":1.09,"y":4.61},{"x":0.84,"y":4.43},{"x":0.92,"y":4.39},{"x":1.01,"y":4.54},{"x":1.08,"y":4.35},{"x":0.76,"y":4.11},{"x":0.93,"y":3.93},{"x":0.95,"y":3.87},{"x":0.96,"y":3.74},{"x":1.11,"y":4.06},{"x":0.76,"y":3.69},{"x":1.07,"y":2.76},{"x":0.74,"y":0},{"x":0.81,"y":0},
{"x":2.14,"y":8.0},{"x":1.75,"y":7.3},{"x":1.84,"y":7.35},{"x":1.74,"y":7.04},{"x":1.91,"y":7.07},{"x":1.9,"y":6.98},{"x":2.08,"y":7.07},{"x":2.15,"y":7.02},{"x":1.84,"y":6.8},{"x":1.9,"y":6.7},{"x":2.2,"y":6.8},{"x":2.11,"y":6.7},{"x":1.74,"y":6.57},{"x":2.15,"y":6.52},{"x":2.19,"y":6.52},{"x":1.81,"y":6.28},{"x":1.9,"y":6.43},{"x":1.92,"y":6.39},{"x":1.96,"y":6.33},{"x":2.03,"y":6.39},{"x":2.06,"y":6.28},{"x":2.11,"y":6.39},{"x":2.24,"y":6.15},{"x":1.77,"y":6.15},{"x":1.85,"y":6.15},{"x":1.71,"y":5.96},{"x":1.82,"y":5.96},{"x":1.96,"y":5.96},{"x":2.03,"y":5.96},{"x":1.92,"y":5.83},{"x":1.75,"y":5.65},{"x":1.85,"y":5.69},{"x":1.94,"y":5.78},{"x":2.15,"y":5.69},{"x":2.18,"y":5.65},{"x":2.21,"y":5.5},{"x":2.24,"y":5.46},{"x":1.74,"y":5.46},{"x":1.93,"y":5.31},{"x":2.13,"y":5.28},{"x":1.81,"y":4.98},{"x":2.08,"y":5.04},{"x":2.0,"y":4.8},{"x":2.19,"y":4.8},{"x":1.81,"y":4.61},{"x":2.08,"y":4.72},{"x":2.06,"y":4.43},{"x":2.15,"y":4.48},{"x":2.19,"y":3.8}],
"vegf_fit":[{"x":1,"y":5.28},{"x":2,"y":5.91}],
"arrowA":[{"start":0.045,"end":0.99}],
"arrowB":[{"start":-0.23,"end":1.09}]
},
"vconcat":[
 {"title":{"text":"A","anchor":"start","fontSize":22,"offset":7},
  "spacing":-10,
  "hconcat":[
   {"width":2,"height":358,"data":{"name":"arrowA"},
    "layer":[
     {"mark":{"type":"rule","color":"#111","strokeWidth":1.6},
      "encoding":{"y":{"field":"start","type":"quantitative","scale":{"domain":[0,1],"nice":false},"axis":{"title":"ln concentration (pg/mL)","titleFontSize":21,"titleFontWeight":"normal","titleColor":"#111","titlePadding":3,"labels":false,"ticks":false,"domain":false,"grid":false}},"y2":{"field":"end"}}},
     {"mark":{"type":"point","shape":"triangle-up","filled":true,"color":"#111","size":30,"strokeWidth":0},
      "encoding":{"y":{"field":"end","type":"quantitative"}}}
    ]},
   {"spacing":12,
    "vconcat":[
     {"spacing":20,"hconcat":[
      {"width":162,"height":152,"title":"IL-2Rα∗∗∗",
       "layer":[
        {"data":{"name":"il2ra"},"mark":"point","encoding":{"x":{"field":"x","type":"quantitative","scale":{"domain":[0.319,2.569],"nice":false,"zero":false},"axis":{"title":null,"values":[1,2],"labelExpr":"datum.value==1?'No Tx':'Modest Tx'"}},"y":{"field":"y","type":"quantitative","scale":{"domain":[-0.22,8.22],"nice":false,"zero":false},"axis":{"title":null,"values":[0,2,4,6,8],"tickCount":10,"format":"d"}}}},
        {"data":{"name":"il2ra_fit"},"mark":"line","encoding":{"x":{"field":"x","type":"quantitative"},"y":{"field":"y","type":"quantitative"}}}
       ]},
      {"width":152,"height":152,"title":"sE-Selectin ∗∗",
       "layer":[
        {"data":{"name":"sesel"},"mark":"point","encoding":{"x":{"field":"x","type":"quantitative","scale":{"domain":[0.444,2.556],"nice":false,"zero":false},"axis":{"title":null,"values":[1,2],"labelExpr":"datum.value==1?'No Tx':'Modest Tx'"}},"y":{"field":"y","type":"quantitative","scale":{"domain":[1.72,5.09],"nice":false,"zero":false},"axis":{"title":null,"values":[2,3,4,5],"tickCount":10,"format":"d"}}}},
        {"data":{"name":"sesel_fit"},"mark":"line","encoding":{"x":{"field":"x","type":"quantitative"},"y":{"field":"y","type":"quantitative"}}}
       ]},
      {"width":150,"height":152,"title":"FGF-2∗∗",
       "layer":[
        {"data":{"name":"fgf2"},"mark":"point","encoding":{"x":{"field":"x","type":"quantitative","scale":{"domain":[0.444,2.53],"nice":false,"zero":false},"axis":{"title":null,"values":[1,2],"labelExpr":"datum.value==1?'No Tx':'Modest Tx'"}},"y":{"field":"y","type":"quantitative","scale":{"domain":[-0.22,8.22],"nice":false,"zero":false},"axis":{"title":null,"values":[0,2,4,6,8],"tickCount":10,"format":"d"}}}},
        {"data":{"name":"fgf2_fit"},"mark":"line","encoding":{"x":{"field":"x","type":"quantitative"},"y":{"field":"y","type":"quantitative"}}}
       ]},
      {"width":153,"height":152,"title":"tPAI-1 ∗",
       "layer":[
        {"data":{"name":"tpai"},"mark":"point","encoding":{"x":{"field":"x","type":"quantitative","scale":{"domain":[0.43,2.57],"nice":false,"zero":false},"axis":{"title":null,"values":[1,2],"labelExpr":"datum.value==1?'No Tx':'Modest Tx'"}},"y":{"field":"y","type":"quantitative","scale":{"domain":[8.9,13.1],"nice":false,"zero":false},"axis":{"title":null,"values":[9,10,11,12,13],"tickCount":10,"format":"d"}}}},
        {"data":{"name":"tpai_fit"},"mark":"line","encoding":{"x":{"field":"x","type":"quantitative"},"y":{"field":"y","type":"quantitative"}}}
       ]}
     ]},
     {"spacing":18,"hconcat":[
      {"width":153,"height":152,"title":"sFasL∗∗∗",
       "layer":[
        {"data":{"name":"sfasl"},"mark":"point","encoding":{"x":{"field":"x","type":"quantitative","scale":{"domain":[0.444,2.57],"nice":false,"zero":false},"axis":{"title":null,"values":[1,2],"labelExpr":"datum.value==1?'No Tx':'Modest Tx'"}},"y":{"field":"y","type":"quantitative","scale":{"domain":[-0.17,6.11],"nice":false,"zero":false},"axis":{"title":null,"values":[0,2,4,6],"minExtent":35,"tickCount":10,"format":"d"}}}},
        {"data":{"name":"sfasl_fit"},"mark":"line","encoding":{"x":{"field":"x","type":"quantitative"},"y":{"field":"y","type":"quantitative"}}}
       ]},
      {"width":153,"height":152,"title":"MCP-1 ∗∗∗",
       "layer":[
        {"data":{"name":"mcp1"},"mark":"point","encoding":{"x":{"field":"x","type":"quantitative","scale":{"domain":[0.444,2.57],"nice":false,"zero":false},"axis":{"title":null,"values":[1,2],"labelExpr":"datum.value==1?'No Tx':'Modest Tx'"}},"y":{"field":"y","type":"quantitative","scale":{"domain":[3.47,8.1],"nice":false,"zero":false},"axis":{"title":null,"values":[4,5,6,7,8],"tickCount":10,"format":"d"}}}},
        {"data":{"name":"mcp1_fit"},"mark":"line","encoding":{"x":{"field":"x","type":"quantitative"},"y":{"field":"y","type":"quantitative"}}}
       ]},
      {"width":152,"height":152,"title":"MIF∗",
       "layer":[
        {"data":{"name":"mif"},"mark":"point","encoding":{"x":{"field":"x","type":"quantitative","scale":{"domain":[0.444,2.556],"nice":false,"zero":false},"axis":{"title":null,"values":[1,2],"labelExpr":"datum.value==1?'No Tx':'Modest Tx'"}},"y":{"field":"y","type":"quantitative","scale":{"domain":[6.72,11.45],"nice":false,"zero":false},"axis":{"title":null,"values":[7,8,9,10,11],"tickCount":10,"format":"d"}}}},
        {"data":{"name":"mif_fit"},"mark":"line","encoding":{"x":{"field":"x","type":"quantitative"},"y":{"field":"y","type":"quantitative"}}}
       ]}
     ]}
    ]}
  ]},
 {"title":{"text":"B","anchor":"start","fontSize":22,"offset":-8},
  "spacing":-7,
  "hconcat":[
   {"width":2,"height":152,"data":{"name":"arrowB"},
    "layer":[
     {"mark":{"type":"rule","color":"#111","strokeWidth":1.6,"clip":false},
      "encoding":{"y":{"field":"start","type":"quantitative","scale":{"domain":[0,1],"nice":false},"axis":{"title":"ln concentration (pg/mL)","titleFontSize":17,"titleFontWeight":"normal","titleColor":"#111","titlePadding":4,"labels":false,"ticks":false,"domain":false,"grid":false}},"y2":{"field":"end"}}},
     {"mark":{"type":"point","shape":"triangle-up","filled":true,"color":"#111","size":30,"strokeWidth":0},
      "encoding":{"y":{"field":"end","type":"quantitative"}}}
    ]},
   {"spacing":18,"hconcat":[
      {"width":152,"height":152,"title":"IL-6∗",
       "layer":[
        {"data":{"name":"il6"},"mark":"point","encoding":{"x":{"field":"x","type":"quantitative","scale":{"domain":[0.444,2.556],"nice":false,"zero":false},"axis":{"title":null,"values":[1,2],"labelExpr":"datum.value==1?'Modest Tx':'Large Tx'"}},"y":{"field":"y","type":"quantitative","scale":{"domain":[-0.24,8.1],"nice":false,"zero":false},"axis":{"title":null,"values":[0,2,4,6,8],"minExtent":33,"tickCount":10,"format":"d"}}}},
        {"data":{"name":"il6_fit"},"mark":"line","encoding":{"x":{"field":"x","type":"quantitative"},"y":{"field":"y","type":"quantitative"}}}
       ]},
      {"width":150,"height":152,"title":"MMP-9∗∗",
       "layer":[
        {"data":{"name":"mmp9"},"mark":"point","encoding":{"x":{"field":"x","type":"quantitative","scale":{"domain":[0.458,2.542],"nice":false,"zero":false},"axis":{"title":null,"values":[1,2],"labelExpr":"datum.value==1?'Modest Tx':'Large Tx'"}},"y":{"field":"y","type":"quantitative","scale":{"domain":[9.86,14.45],"nice":false,"zero":false},"axis":{"title":null,"values":[10,11,12,13,14],"tickCount":10,"format":"d"}}}},
        {"data":{"name":"mmp9_fit"},"mark":"line","encoding":{"x":{"field":"x","type":"quantitative"},"y":{"field":"y","type":"quantitative"}}}
       ]},
      {"width":150,"height":152,"title":"VEGF∗",
       "layer":[
        {"data":{"name":"vegf"},"mark":"point","encoding":{"x":{"field":"x","type":"quantitative","scale":{"domain":[0.458,2.542],"nice":false,"zero":false},"axis":{"title":null,"values":[1,2],"labelExpr":"datum.value==1?'Modest Tx':'Large Tx'"}},"y":{"field":"y","type":"quantitative","scale":{"domain":[-0.26,8.09],"nice":false,"zero":false},"axis":{"title":null,"values":[0,2,4,6,8],"tickCount":10,"format":"d"}}}},
        {"data":{"name":"vegf_fit"},"mark":"line","encoding":{"x":{"field":"x","type":"quantitative"},"y":{"field":"y","type":"quantitative"}}}
       ]}
   ]}
  ]}
]
}
